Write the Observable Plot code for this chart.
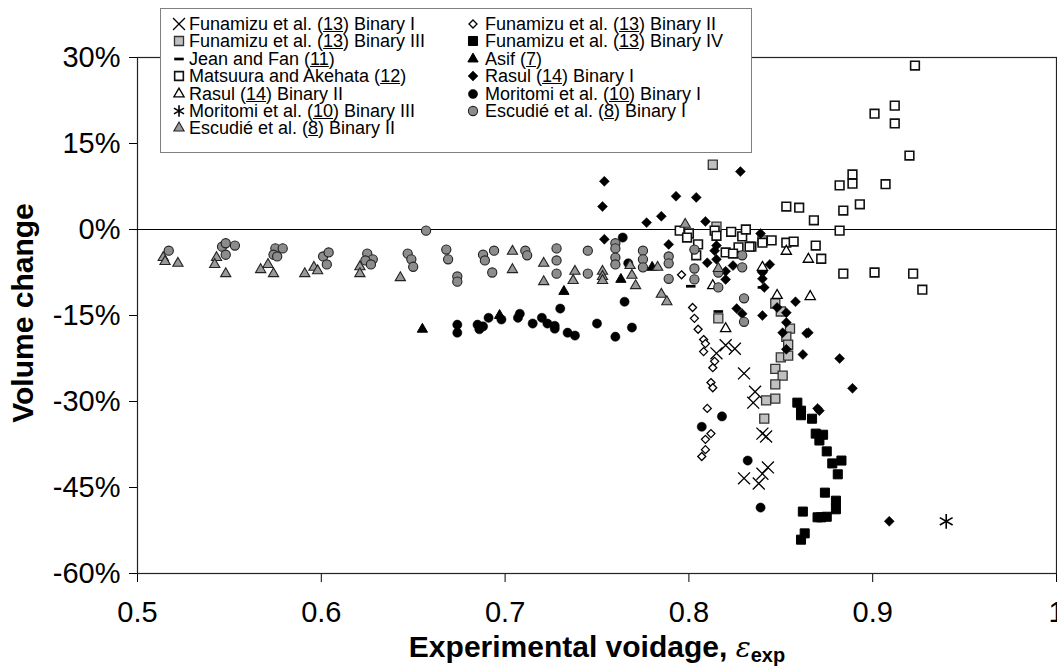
<!DOCTYPE html>
<html><head><meta charset="utf-8">
<script src="https://cdn.jsdelivr.net/npm/d3@7"></script>
<script src="https://cdn.jsdelivr.net/npm/@observablehq/plot@0.6"></script>
<style>
html,body{margin:0;padding:0;background:#fff;overflow:hidden}
body{font-family:"Liberation Sans",Arial,sans-serif;color:#000}
#wrap{position:relative;width:1057px;height:672px;overflow:hidden}
#legend{position:absolute;left:160px;top:8px;width:592px;height:145px;border:1px solid #808080;background:#fff;box-sizing:border-box}
.lsym{position:absolute}
.ltxt{position:absolute;font-size:18px;line-height:16px;height:16px;white-space:nowrap}
#xtitle{position:absolute;left:597px;top:632px;transform:translateX(-50%);font-weight:bold;font-size:30px;line-height:30px;white-space:nowrap}
#ytitle{position:absolute;left:23px;top:313px;transform:translate(-50%,-50%) rotate(-90deg);font-weight:bold;font-size:30px;line-height:30px;white-space:nowrap}
</style></head>
<body><div id="wrap"></div>
<script>
// ---- data (x = experimental voidage, y = volume change in %) ----
const xTicks = [0.5, 0.6, 0.7, 0.8, 0.9, 1];
const yTicks = [30, 15, 0, -15, -30, -45, -60];

const funamizu1 = [[0.815,-21.6],[0.820,-20.2],[0.825,-20.8],[0.830,-25.1],[0.836,-28.3],[0.835,-30.2],[0.840,-35.6],[0.842,-36.1],[0.843,-41.5],[0.840,-42.6],[0.830,-43.4],[0.838,-44.3]];
const funamizu2 = [[0.796,-7.9],[0.802,-13.6],[0.803,-15.5],[0.805,-17.4],[0.808,-19.2],[0.809,-19.9],[0.808,-21.3],[0.814,-23.0],[0.813,-24.1],[0.812,-26.7],[0.813,-27.6],[0.810,-31.2],[0.812,-35.6],[0.809,-36.6],[0.809,-38.4],[0.807,-39.6]];
const funamizu3 = [[0.813,11.3],[0.815,0.5],[0.840,-1.9],[0.816,-15.5],[0.847,-12.9],[0.850,-14.3],[0.855,-17.3],[0.853,-18.7],[0.854,-20.1],[0.850,-22.3],[0.854,-22.0],[0.847,-24.3],[0.851,-25.5],[0.847,-27.0],[0.847,-29.5],[0.842,-29.8],[0.841,-33.0]];
const funamizu4 = [[0.859,-30.2],[0.861,-31.6],[0.861,-32.4],[0.867,-33.0],[0.869,-35.6],[0.873,-35.8],[0.871,-36.8],[0.875,-38.7],[0.878,-40.8],[0.883,-40.3],[0.881,-42.7],[0.874,-45.9],[0.880,-47.3],[0.880,-48.8],[0.862,-49.2],[0.870,-50.2],[0.872,-50.2],[0.875,-50.1],[0.863,-53.0],[0.861,-54.1]];
const jeanFan = [[0.801,-9.9],[0.816,-14.3],[0.840,-10.1]];
const asif = [[0.655,-17.4],[0.697,-15.0],[0.732,-10.8],[0.763,-8.7],[0.780,-6.6],[0.840,-6.8]];
const matsuura = [[0.923,28.6],[0.912,21.6],[0.901,20.2],[0.912,18.5],[0.920,12.9],[0.889,9.6],[0.889,8.0],[0.882,7.7],[0.907,7.9],[0.893,4.4],[0.884,3.3],[0.853,4.0],[0.860,3.8],[0.868,1.6],[0.882,-0.2],[0.840,-2.3],[0.845,-1.9],[0.853,-2.3],[0.857,-2.1],[0.869,-2.8],[0.872,-5.1],[0.884,-7.7],[0.901,-7.5],[0.922,-7.7],[0.927,-10.5],[0.834,-3.0],[0.795,-0.2],[0.800,-0.7],[0.799,-1.4],[0.805,-2.6],[0.804,-4.5],[0.814,-0.2],[0.815,-1.1],[0.823,-0.4],[0.829,-1.2],[0.831,0.0],[0.833,-3.0],[0.827,-3.1],[0.820,-4.0],[0.824,-4.2]];
const rasul1 = [[0.754,8.4],[0.753,4.0],[0.754,-1.7],[0.777,1.2],[0.785,2.3],[0.793,5.8],[0.804,5.6],[0.828,10.1],[0.809,1.4],[0.789,-2.6],[0.814,-3.7],[0.815,-2.8],[0.815,-5.2],[0.810,-5.8],[0.824,-6.3],[0.820,-7.3],[0.820,-8.7],[0.839,-0.7],[0.844,-6.1],[0.840,-7.5],[0.840,-8.6],[0.841,-10.1],[0.826,-13.8],[0.829,-14.7],[0.840,-15.0],[0.848,-13.6],[0.853,-14.5],[0.853,-16.2],[0.851,-18.0],[0.858,-12.6],[0.853,-20.9],[0.862,-21.8],[0.864,-18.1],[0.865,-18.0],[0.882,-22.5],[0.870,-31.2],[0.871,-31.6],[0.889,-27.7],[0.909,-50.9]];
const rasul2 = [[0.813,-9.8],[0.820,-17.3],[0.840,-6.6],[0.848,-11.5],[0.853,-3.8],[0.865,-5.2],[0.866,-11.7]];
const moritomi1 = [[0.674,-16.6],[0.674,-18.0],[0.685,-16.6],[0.686,-17.4],[0.688,-16.9],[0.691,-15.4],[0.698,-15.7],[0.707,-15.4],[0.708,-14.7],[0.715,-16.4],[0.720,-15.4],[0.723,-16.4],[0.727,-17.3],[0.727,-16.8],[0.734,-18.0],[0.738,-18.5],[0.750,-16.4],[0.760,-18.7],[0.730,-13.8],[0.765,-12.6],[0.767,-5.9],[0.769,-17.1],[0.764,-1.4],[0.818,-32.6],[0.807,-34.4],[0.832,-40.3],[0.839,-48.5]];
const moritomi3 = [[0.940,-50.9]];
const escudie1 = [[0.517,-3.7],[0.546,-3.0],[0.548,-2.4],[0.553,-2.8],[0.548,-4.4],[0.575,-3.3],[0.579,-3.3],[0.574,-4.4],[0.576,-4.7],[0.601,-4.7],[0.604,-4.0],[0.603,-6.1],[0.625,-4.2],[0.628,-5.2],[0.624,-5.4],[0.627,-6.1],[0.647,-4.2],[0.649,-5.2],[0.650,-6.5],[0.657,-0.2],[0.668,-3.5],[0.669,-5.2],[0.674,-8.2],[0.674,-9.1],[0.688,-4.4],[0.689,-5.4],[0.694,-3.7],[0.693,-7.5],[0.711,-3.7],[0.712,-4.5],[0.728,-3.3],[0.728,-5.4],[0.728,-7.7],[0.745,-3.7],[0.745,-7.7],[0.760,-2.4],[0.760,-3.3],[0.760,-4.9],[0.760,-6.1],[0.775,-3.7],[0.775,-5.2],[0.775,-6.6],[0.789,-4.7],[0.789,-5.9],[0.789,-8.6],[0.803,-3.5],[0.803,-6.8],[0.803,-8.7],[0.816,-7.5],[0.816,-10.1],[0.829,-4.5],[0.829,-6.6],[0.830,-12.0],[0.830,-16.1]];
const escudie2 = [[0.514,-4.9],[0.515,-5.6],[0.522,-5.9],[0.543,-4.9],[0.542,-6.1],[0.548,-7.7],[0.567,-7.0],[0.571,-6.1],[0.574,-7.7],[0.591,-7.7],[0.596,-6.6],[0.598,-7.2],[0.621,-6.5],[0.621,-7.7],[0.643,-8.4],[0.704,-3.8],[0.704,-7.0],[0.721,-5.9],[0.721,-9.1],[0.738,-7.3],[0.737,-8.9],[0.753,-7.3],[0.753,-8.2],[0.753,-8.9],[0.768,-6.3],[0.769,-8.0],[0.771,-9.8],[0.783,-6.6],[0.785,-11.3],[0.788,-12.6],[0.798,0.9],[0.816,-6.8]];

const seriesNames = ["Funamizu et al. (|13|) Binary I","Funamizu et al. (|13|) Binary II","Funamizu et al. (|13|) Binary III","Funamizu et al. (|13|) Binary IV","Jean and Fan (|11|)","Asif (|7|)","Matsuura and Akehata (|12|)","Rasul (|14|) Binary I","Rasul (|14|) Binary II","Moritomi et al. (|10|) Binary I","Moritomi et al. (|10|) Binary III","Escudié et al. (|8|) Binary I","Escudié et al. (|8|) Binary II"];
const seriesData = [funamizu1,funamizu2,funamizu3,funamizu4,jeanFan,asif,matsuura,rasul1,rasul2,moritomi1,moritomi3,escudie1,escudie2];

// ---- styles ----
const dash = {draw(ctx, size){const s=Math.sqrt(size); const w=s*0.6, h=s*0.17; ctx.moveTo(-w,-h); ctx.lineTo(w,-h); ctx.lineTo(w,h); ctx.lineTo(-w,h); ctx.closePath();}};
const styles = [
  {symbol:d3.symbolTimes, r:5.5, fill:"none", stroke:"#000", sw:1.3},
  {symbol:d3.symbolDiamond2, r:3.6, fill:"#fff", stroke:"#000", sw:1.3},
  {symbol:d3.symbolSquare, r:5.1, fill:"#c0c0c0", stroke:"#333", sw:1.3},
  {symbol:d3.symbolSquare, r:5.1, fill:"#000", stroke:"#000", sw:1},
  {symbol:dash, r:4.5, fill:"#000", stroke:"none", sw:0},
  {symbol:d3.symbolTriangle, r:3.8, fill:"#000", stroke:"#000", sw:1},
  {symbol:d3.symbolSquare, r:4.9, fill:"#fff", stroke:"#111", sw:1.6},
  {symbol:d3.symbolDiamond2, r:4.5, fill:"#000", stroke:"#000", sw:0.5},
  {symbol:d3.symbolTriangle, r:3.8, fill:"#fff", stroke:"#000", sw:1.3},
  {symbol:d3.symbolCircle, r:4.6, fill:"#000", stroke:"#000", sw:0.5},
  {symbol:d3.symbolAsterisk, r:7, fill:"none", stroke:"#000", sw:1.6},
  {symbol:d3.symbolCircle, r:4.6, fill:"#8c8c8c", stroke:"#222", sw:1.1},
  {symbol:d3.symbolTriangle, r:3.8, fill:"#999", stroke:"#222", sw:1.1}
];

const dotMarks = seriesData.map((arr, i) => {
  const s = styles[i];
  return Plot.dot(arr.map(([x,y]) => ({x, y})), {x:"x", y:"y", symbol: s.symbol, r: s.r, fill: s.fill, stroke: s.stroke, strokeWidth: s.sw});
});

const chart = Plot.plot({
  width: 1057, height: 672,
  marginLeft: 137, marginRight: 1, marginTop: 57, marginBottom: 99,
  style: {fontFamily: "'Liberation Sans', Arial, sans-serif", fontSize: "29px", color: "#000", background: "#fff", overflow: "hidden"},
  x: {domain: [0.5, 1], ticks: xTicks, tickFormat: d => String(d), tickSize: 9, tickPadding: 19, label: null},
  y: {domain: [-60, 30], ticks: yTicks, tickFormat: d => d + "%", tickSize: 8, tickPadding: 9, label: null},
  marks: [
    Plot.frame({stroke: "#222", strokeWidth: 1.2}),
    Plot.ruleY([0], {stroke: "#000", strokeWidth: 1.2}),
    ...dotMarks
  ]
});
const wrap = document.getElementById("wrap");
wrap.appendChild(chart);

// ---- legend ----
const legend = d3.select(wrap).append("div").attr("id", "legend");
seriesNames.forEach((name, i) => {
  const col = i % 2, row = Math.floor(i / 2);
  const cy = 15 + row * 17.4;
  const mx = col === 0 ? 18 : 312;
  const tx = col === 0 ? 28 : 324;
  const s = styles[i];
  const size = Math.PI * Math.min(s.r, 5.5) * Math.min(s.r, 5.5);
  const svg = legend.append("svg").attr("class", "lsym").attr("width", 16).attr("height", 16)
    .style("left", (mx - 8) + "px").style("top", (cy - 8) + "px");
  svg.append("path").attr("transform", "translate(8,8)").attr("d", d3.symbol(s.symbol, size)())
    .attr("fill", s.fill).attr("stroke", s.stroke).attr("stroke-width", s.sw);
  const parts = name.split("|");
  const t = legend.append("div").attr("class", "ltxt").style("left", tx + "px").style("top", (cy - 8) + "px");
  t.append("span").text(parts[0]);
  t.append("u").text(parts[1]);
  t.append("span").text(parts[2]);
});

// ---- axis titles ----
d3.select(wrap).append("div").attr("id", "ytitle").text("Volume change");
const xt = d3.select(wrap).append("div").attr("id", "xtitle");
xt.append("span").text("Experimental voidage, ");
xt.append("span").style("font-family", "'DejaVu Serif', serif").style("font-style", "italic").style("font-weight", "normal").style("font-size", "28px").text("ε");
xt.append("span").style("font-size", "20px").style("position", "relative").style("top", "5px").text("exp");
</script>
</body></html>
